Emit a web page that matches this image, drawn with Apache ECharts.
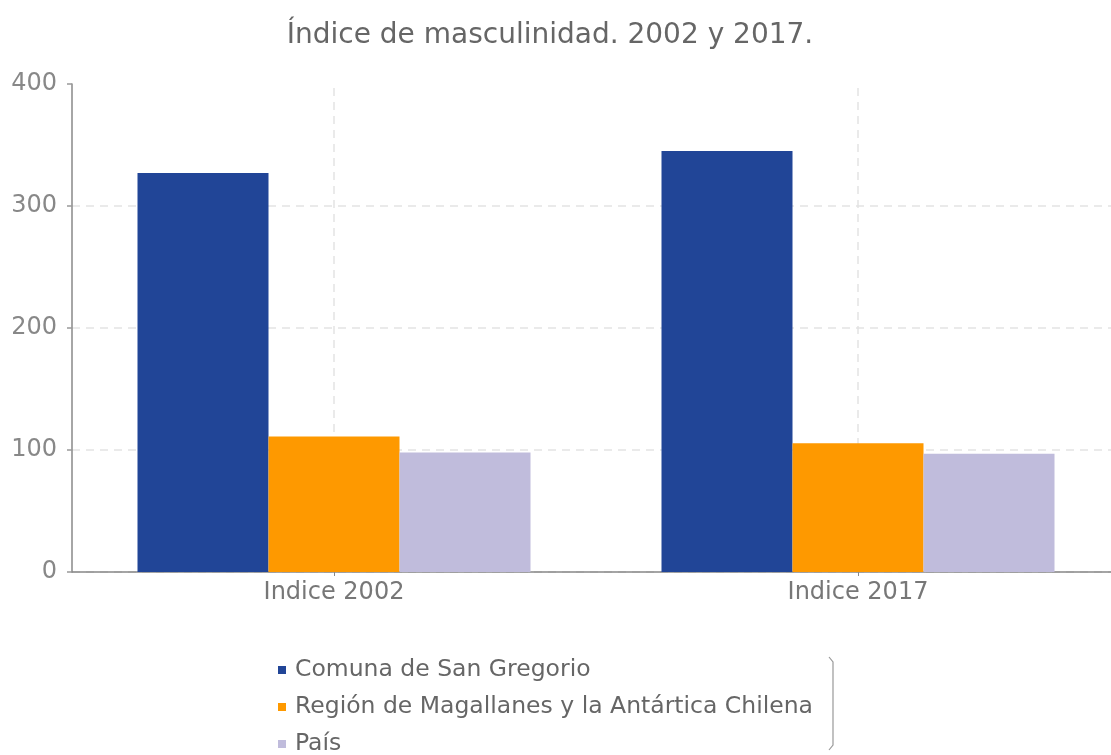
<!DOCTYPE html>
<html>
<head>
    <meta charset="utf-8">
    <title>Índice de masculinidad</title>
    <script src="https://cdn.jsdelivr.net/npm/echarts@6/dist/echarts.min.js"></script>
    <style>
        html, body { margin: 0; padding: 0; background: #fff; overflow: hidden; }
        #chart { width: 1130px; height: 790px; }
    </style>
</head>
<body>
<div id="chart"></div>
<script type="text/javascript">
    var categories = ['Indice 2002', 'Indice 2017'];
    var seriesNames = ['Comuna de San Gregorio', 'Región de Magallanes y la Antártica Chilena', 'País'];
    var sanGregorio = [327, 345];
    var magallanes = [111, 105.5];
    var pais = [98, 97];
    var colors = ['#214597', '#fe9900', '#c0bcdc'];

    var chart = echarts.init(document.getElementById('chart'));
    var dataList = [sanGregorio, magallanes, pais];

    var series = [];
    for (var i = 0; i < seriesNames.length; i++) {
        series.push({
            name: seriesNames[i],
            type: 'bar',
            data: dataList[i],
            barGap: 0,
            barCategoryGap: '25%',
            z: 3,
            itemStyle: { color: colors[i] }
        });
    }
    // serie auxiliar solo para las líneas verticales en el centro de cada categoría
    series.push({
        name: 'guias',
        type: 'line',
        data: [],
        z: 1,
        silent: true,
        markLine: {
            z: 1,
            silent: true,
            symbol: 'none',
            label: { show: false },
            lineStyle: { color: '#e4e4e4', type: [8, 6], width: 1.5 },
            data: categories.map(function (c) { return { xAxis: c }; })
        }
    });

    var option = {
        animation: false,
        title: {
            text: 'Índice de masculinidad. 2002 y 2017.',
            left: 545,
            textAlign: 'center',
            top: 17,
            textStyle: { fontFamily: 'DejaVu Sans', fontSize: 28, fontWeight: 'normal', color: '#666' }
        },
        legend: {
            orient: 'vertical',
            left: 273,
            top: 653,
            padding: 5,
            itemWidth: 8,
            itemHeight: 8,
            itemGap: 13,
            icon: 'rect',
            textStyle: { fontFamily: 'DejaVu Sans', fontSize: 23.5, color: '#666', padding: [0, 0, 0, 4] },
            data: seriesNames
        },
        grid: {
            left: 72,
            top: 84,
            width: 1048,
            height: 488
        },
        xAxis: {
            type: 'category',
            data: categories,
            axisLine: { lineStyle: { color: '#888', width: 1.5 } },
            axisTick: { show: true, alignWithLabel: true, length: 4, lineStyle: { color: '#888' } },
            axisLabel: { fontFamily: 'DejaVu Sans', fontSize: 24, color: '#777', margin: 9 },
            splitLine: { show: false }
        },
        yAxis: {
            type: 'value',
            min: 0,
            max: 400,
            interval: 100,
            axisLine: { show: true, lineStyle: { color: '#888', width: 1.5 } },
            axisTick: { show: true, length: 5, lineStyle: { color: '#999', width: 1.5 } },
            axisLabel: { fontFamily: 'DejaVu Sans', fontSize: 24, color: '#888', margin: 15 },
            splitLine: { showMaxLine: false, lineStyle: { color: '#e4e4e4', type: [8, 6], width: 1.5 } }
        },
        graphic: [{
            type: 'polyline',
            silent: true,
            shape: { points: [[829, 657], [833, 662], [833, 745], [829, 750]] },
            style: { stroke: '#999', lineWidth: 1.2, fill: null }
        }],
        series: series
    };
    chart.setOption(option);
</script>
</body>
</html>
